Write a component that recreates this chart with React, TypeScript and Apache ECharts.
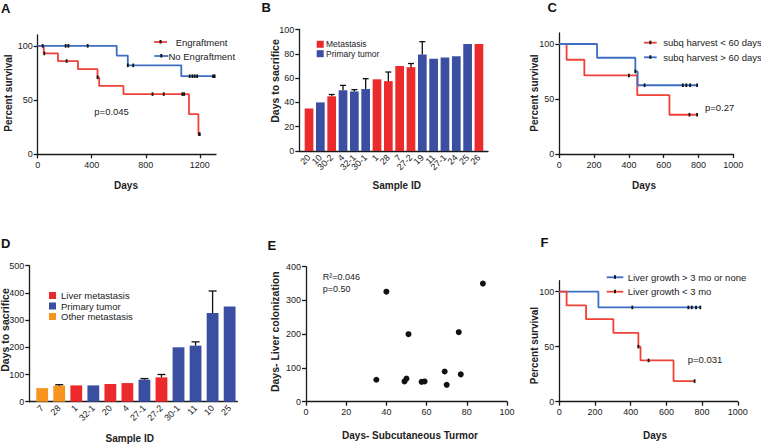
import React, { useEffect, useRef } from "react";
import * as echarts from "echarts";

const FONT = "'Liberation Sans', Arial, Helvetica, sans-serif";

// ---------- Panel A : Kaplan-Meier, engraftment ----------
const aEngT = [0, 45, 150, 298, 443, 455, 635, 1120, 1190, 1200];
const aEngS = [100, 93, 86, 78.5, 71, 63, 55.5, 37, 18.5, 18.5];
const aEngCensT = [49, 214, 443, 850, 933, 1071, 1084, 1195, 1200];
const aEngCensS = [93, 86, 71, 55.5, 55.5, 55.5, 55.5, 18.5, 18.5];
const aNoT = [0, 585, 667, 1063, 1310];
const aNoS = [100, 91, 82, 72, 72];
const aNoCensT = [37, 207, 227, 370, 667, 707, 1125, 1145, 1162, 1180, 1298, 1310];
const aNoCensS = [100, 100, 100, 100, 82, 82, 72, 72, 72, 72, 72, 72];
const aXTicks = [0, 400, 800, 1200];
const kmYTicks = [0, 50, 100];

// ---------- Panel B : days to sacrifice (subq) ----------
const bIds = ["20", "10", "30-2", "4", "32-1", "30-1", "1", "28", "7", "27-2", "19", "11", "27-1", "24", "25", "26"];
const bVals = [35, 40, 45, 50, 49, 51, 59, 57.5, 70, 69, 79.5, 76, 77, 78, 88, 88];
const bErr = [0, 0, 1.5, 4, 1.5, 8.5, 0, 7.5, 0, 3, 10.5, 0, 0, 0, 0, 0];
const bType = ["met", "pri", "met", "pri", "pri", "pri", "met", "met", "met", "met", "pri", "pri", "pri", "pri", "pri", "met"];
const bYTicks = [0, 20, 40, 60, 80, 100];

// ---------- Panel C : KM, subq harvest ----------
const cLtT = [0, 42, 144, 448, 633, 792];
const cLtS = [100, 85.7, 71.4, 53.6, 35.7, 35.7];
const cLtCensT = [400, 748, 792];
const cLtCensS = [71.4, 35.7, 35.7];
const cGtT = [0, 217, 437, 450, 792];
const cGtS = [100, 87.5, 75, 62.5, 62.5];
const cGtCensT = [437, 490, 710, 730, 752, 792];
const cGtCensS = [75, 62.5, 62.5, 62.5, 62.5, 62.5];
const cfXTicks = [0, 200, 400, 600, 800, 1000];

// ---------- Panel D : days to sacrifice (liver) ----------
const dIds = ["7", "28", "1", "32-1", "20", "4", "27-1", "27-2", "30-1", "11", "10", "25"];
const dVals = [50, 59, 60, 60, 65, 68.5, 81, 89.5, 200, 206, 326, 350];
const dErr = [0, 3.5, 0, 0, 0, 0, 4, 10.5, 0, 14, 81, 0];
const dType = ["oth", "oth", "liv", "pri", "liv", "liv", "pri", "liv", "pri", "pri", "pri", "pri"];
const dYTicks = [0, 100, 200, 300, 400, 500];

// ---------- Panel E : scatter ----------
const eX = [35, 40, 49, 50, 51, 57.5, 59, 69, 70, 76, 77, 88];
const eY = [65, 326, 60, 68.6, 200, 59, 60, 89.5, 50, 206, 81, 350];
const eXTicks = [0, 20, 40, 60, 80, 100];
const eYTicks = [0, 100, 200, 300, 400];

// ---------- Panel F : KM, liver growth ----------
const fGtT = [0, 219, 790];
const fGtS = [100, 85.7, 85.7];
const fGtCensT = [409, 723, 742, 766, 790];
const fGtCensS = [85.7, 85.7, 85.7, 85.7, 85.7];
const fLtT = [0, 41, 150, 303, 443, 455, 640, 758];
const fLtS = [100, 87.5, 75, 62.5, 50, 37.5, 18.75, 18.75];
const fLtCensT = [443, 500, 758];
const fLtCensS = [50, 37.5, 18.75];

const RED_KM = "#ef4137";
const BLUE_KM = "#3d6ec4";
const RED_BAR = "#ec2a2c";
const BLUE_BAR = "#3a4fa1";
const ORANGE_BAR = "#f7941e";
const AXIS = "#1a1a1a";
const TEXT = "#222";

const barColor: Record<string, string> = {
  met: RED_BAR,
  liv: RED_BAR,
  pri: BLUE_BAR,
  oth: ORANGE_BAR,
};

const grids = [
  { left: 37.7, top: 35, width: 178.3, height: 119.3 }, // A
  { left: 299.3, top: 29.5, width: 188.7, height: 121.5 }, // B
  { left: 559.3, top: 33, width: 174, height: 121 }, // C
  { left: 29.3, top: 265.7, width: 208, height: 136 }, // D
  { left: 306, top: 266.7, width: 201, height: 135 }, // E
  { left: 559.3, top: 280.7, width: 178.5, height: 121 }, // F
];

function valAxis(gridIndex: number, min: number, max: number, ticks: number[], extra: any = {}) {
  const { label = {}, tick = {}, ...rest } = extra;
  return {
    type: "value",
    gridIndex,
    min,
    max,
    splitLine: { show: false },
    axisLine: { show: true, onZero: false, lineStyle: { color: AXIS, width: 1.3 } },
    axisTick: { show: true, length: 4, customValues: ticks, lineStyle: { color: AXIS, width: 1.3 }, ...tick },
    axisLabel: {
      customValues: ticks,
      fontSize: 9,
      color: TEXT,
      fontFamily: FONT,
      margin: 5,
      showMinLabel: true,
      showMaxLabel: true,
      hideOverlap: false,
      formatter: (v: number) => String(v),
      ...label,
    },
    ...rest,
  };
}

// category-like axis on a value scale: a blank label sits at each end so that
// the end-label overlap rule only ever hides those blanks
function catAxis(gridIndex: number, min: number, max: number, ids: string[]) {
  const pos = [min, ...ids.map((_, i) => i), max];
  return valAxis(gridIndex, min, max, pos, {
    tick: { show: false },
    label: {
      customValues: pos,
      rotate: 45,
      fontSize: 9,
      margin: 5,
      showMinLabel: false,
      showMaxLabel: false,
      formatter: (v: number) => {
        const k = Math.round(v);
        return Math.abs(v - k) < 1e-6 && ids[k] !== undefined ? ids[k] : " ";
      },
    },
  });
}

function km(times: number[], surv: number[], color: string, idx: number) {
  return {
    type: "line",
    xAxisIndex: idx,
    yAxisIndex: idx,
    data: times.map((t, i) => [t, surv[i]]),
    step: "end",
    symbol: "none",
    showSymbol: false,
    lineStyle: { color, width: 1.8 },
    z: 2,
    silent: true,
  };
}

function cens(times: number[], surv: number[], idx: number) {
  return {
    type: "scatter",
    xAxisIndex: idx,
    yAxisIndex: idx,
    data: times.map((t, i) => [t, surv[i]]),
    symbol: "rect",
    symbolSize: [1.8, 3.6],
    itemStyle: { color: "#111", opacity: 1 },
    z: 3,
    silent: true,
  };
}

function bars(vals: number[], types: string[], idx: number, width: number) {
  return {
    type: "bar",
    xAxisIndex: idx,
    yAxisIndex: idx,
    barWidth: width,
    data: vals.map((v, i) => ({ value: [i, v], itemStyle: { color: barColor[types[i]] } })),
    z: 2,
    silent: true,
  };
}

function errs(vals: number[], err: number[], idx: number, cap: number) {
  const data: number[][] = [];
  vals.forEach((v, i) => {
    if (err[i] > 0) data.push([i, v, err[i]]);
  });
  return {
    type: "custom",
    xAxisIndex: idx,
    yAxisIndex: idx,
    data,
    z: 3,
    silent: true,
    renderItem: (_p: any, api: any) => {
      const x = api.value(0);
      const y = api.value(1);
      const e = api.value(2);
      const p0 = api.coord([x, y]);
      const p1 = api.coord([x, y + e]);
      const st = { stroke: "#111", lineWidth: 1.3 };
      return {
        type: "group",
        children: [
          { type: "line", shape: { x1: p0[0], y1: p0[1], x2: p1[0], y2: p1[1] }, style: st },
          { type: "line", shape: { x1: p1[0] - cap, y1: p1[1], x2: p1[0] + cap, y2: p1[1] }, style: st },
        ],
      };
    },
  };
}

function txt(text: string, x: number, y: number, o: any = {}) {
  return {
    type: "text",
    x,
    y,
    rotation: o.rot || 0,
    silent: true,
    style: {
      text,
      fill: o.fill || TEXT,
      fontSize: o.size || 9.5,
      fontWeight: o.bold ? "bold" : "normal",
      fontFamily: FONT,
      align: o.align || "left",
      verticalAlign: "middle",
    },
  };
}

function kmLegend(x1: number, x2: number, y: number, color: string, label: string, tx: number) {
  return [
    { type: "line", silent: true, shape: { x1, y1: y, x2, y2: y }, style: { stroke: color, lineWidth: 1.8 } },
    { type: "rect", silent: true, shape: { x: (x1 + x2) / 2 - 1, y: y - 2, width: 2, height: 3.5 }, style: { fill: "#111" } },
    txt(label, tx, y),
  ];
}

function sqLegend(x: number, y: number, color: string, label: string, tx: number, size: number) {
  return [
    { type: "rect", silent: true, shape: { x, y: y - 3.5, width: 7, height: 7 }, style: { fill: color } },
    txt(label, tx, y, { size }),
  ];
}

export default function App() {
  const ref = useRef<HTMLDivElement>(null);
  useEffect(() => {
    if (!ref.current) return;
    const chart = echarts.init(ref.current, undefined, { renderer: "svg" });

    const option: any = {
      animation: false,
      backgroundColor: "#ffffff",
      textStyle: { fontFamily: FONT },
      grid: grids.map((g) => ({ ...g, containLabel: false })),
      xAxis: [
        valAxis(0, 0, 1320, aXTicks, { label: { margin: 6 } }),
        catAxis(1, -0.86, 15.8, bIds),
        valAxis(2, 0, 1000, cfXTicks, { label: { margin: 6 } }),
        catAxis(3, -0.757, 11.45, dIds),
        valAxis(4, 0, 100, eXTicks, { label: { margin: 6 } }),
        valAxis(5, 0, 1000, cfXTicks, { label: { margin: 6 } }),
      ],
      yAxis: [
        valAxis(0, 0, 110, kmYTicks),
        valAxis(1, 0, 100, bYTicks),
        valAxis(2, 0, 110, kmYTicks),
        valAxis(3, 0, 500, dYTicks),
        valAxis(4, 0, 400, eYTicks),
        valAxis(5, 0, 110, kmYTicks),
      ],
      series: [
        km(aEngT, aEngS, RED_KM, 0),
        km(aNoT, aNoS, BLUE_KM, 0),
        cens(aEngCensT, aEngCensS, 0),
        cens(aNoCensT, aNoCensS, 0),
        bars(bVals, bType, 1, 8.7),
        errs(bVals, bErr, 1, 3),
        km(cLtT, cLtS, RED_KM, 2),
        km(cGtT, cGtS, BLUE_KM, 2),
        cens(cLtCensT, cLtCensS, 2),
        cens(cGtCensT, cGtCensS, 2),
        bars(dVals, dType, 3, 11.8),
        errs(dVals, dErr, 3, 4),
        {
          type: "scatter",
          xAxisIndex: 4,
          yAxisIndex: 4,
          data: eX.map((x, i) => [x, eY[i]]),
          symbol: "circle",
          symbolSize: 6,
          itemStyle: { color: "#111", opacity: 1 },
          silent: true,
        },
        km(fGtT, fGtS, BLUE_KM, 5),
        km(fLtT, fLtS, RED_KM, 5),
        cens(fGtCensT, fGtCensS, 5),
        cens(fLtCensT, fLtCensS, 5),
      ],
      graphic: [
        // panel letters
        txt("A", 1, 8, { size: 13, bold: true, fill: "#111" }),
        txt("B", 261.5, 7, { size: 13, bold: true, fill: "#111" }),
        txt("C", 547.5, 7, { size: 13, bold: true, fill: "#111" }),
        txt("D", 1, 243, { size: 13, bold: true, fill: "#111" }),
        txt("E", 267.5, 245, { size: 13, bold: true, fill: "#111" }),
        txt("F", 540.5, 242.5, { size: 13, bold: true, fill: "#111" }),
        // axis titles
        txt("Percent survival", 8, 93, { size: 10, bold: true, align: "center", rot: Math.PI / 2 }),
        txt("Days", 126, 185, { size: 10, bold: true, align: "center" }),
        txt("Days to sacrifice", 274.5, 81, { size: 10.5, bold: true, align: "center", rot: Math.PI / 2 }),
        txt("Sample ID", 396.7, 185.7, { size: 10, bold: true, align: "center" }),
        txt("Percent survival", 534, 93, { size: 10, bold: true, align: "center", rot: Math.PI / 2 }),
        txt("Days", 644, 185, { size: 10, bold: true, align: "center" }),
        txt("Days to sacrifice", 5, 330, { size: 10.5, bold: true, align: "center", rot: Math.PI / 2 }),
        txt("Sample ID", 129.7, 438, { size: 10, bold: true, align: "center" }),
        txt("Days- Liver colonization", 274.5, 331.7, { size: 10.5, bold: true, align: "center", rot: Math.PI / 2 }),
        txt("Days- Subcutaneous Turmor", 410, 435, { size: 10, bold: true, align: "center" }),
        txt("Percent survival", 534, 345.5, { size: 10, bold: true, align: "center", rot: Math.PI / 2 }),
        txt("Days", 655, 435, { size: 10, bold: true, align: "center" }),
        // legends
        ...kmLegend(154, 167, 42, RED_KM, "Engraftment", 175.7),
        ...kmLegend(154.3, 168.3, 56, BLUE_KM, "No Engraftment", 168.5),
        ...sqLegend(316.7, 44.3, RED_BAR, "Metastasis", 326, 8.5),
        ...sqLegend(316.7, 53.7, BLUE_BAR, "Primary tumor", 326, 8.5),
        ...kmLegend(644, 656.7, 42.7, RED_KM, "subq harvest < 60 days", 663.3),
        ...kmLegend(644, 656.7, 57.3, BLUE_KM, "subq harvest > 60 days", 663.3),
        ...sqLegend(49, 295.5, RED_BAR, "Liver metastasis", 61, 9.5),
        ...sqLegend(49, 306, BLUE_BAR, "Primary tumor", 61, 9.5),
        ...sqLegend(49, 316.5, ORANGE_BAR, "Other metastasis", 61, 9.5),
        ...kmLegend(606.7, 623.3, 277.3, BLUE_KM, "Liver growth > 3 mo or none", 627.7),
        ...kmLegend(606.7, 623.3, 291.7, RED_KM, "Liver growth < 3 mo", 627.7),
        // statistics
        txt("p=0.045", 94.3, 111),
        txt("p=0.27", 705, 107.3),
        txt("R\u00b2=0.046", 322.7, 277.3, { size: 9 }),
        txt("p=0.50", 322.7, 289, { size: 9 }),
        txt("p=0.031", 687.7, 359.3),
      ],
    };

    chart.setOption(option);
    return () => chart.dispose();
  }, []);

  return (
    <div style={{ position: "absolute", left: 0, top: 0, width: 761, height: 444, background: "#fff" }}>
      <div ref={ref} style={{ width: 761, height: 444 }} />
    </div>
  );
}
